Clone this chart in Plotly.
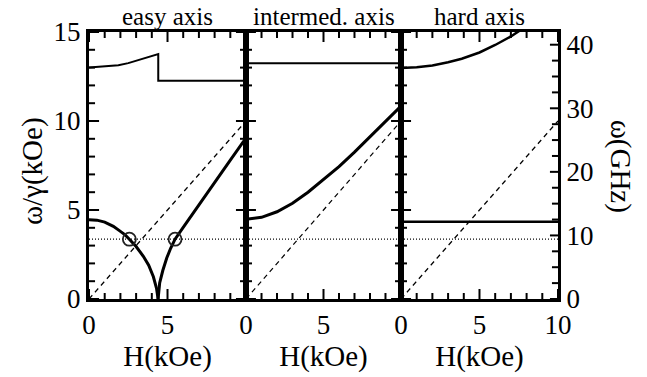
import plotly.graph_objects as go

# ---------------- data ----------------
GAMMA = 2.8  # GHz per kOe (right axis conversion)
Y_MAX = 15

panel_titles = ["easy axis", "intermed. axis", "hard axis"]

ref_H = [0, 10]          # dashed line omega/gamma = H
ref_w = [0, 10]
xband_H = [0, 10]        # dotted horizontal line
xband_w = [3.36, 3.36]

# easy axis
easy_low_H = [0, 0.5, 1.0, 1.55, 2.0, 2.3, 2.57, 3.0, 3.46, 3.8, 4.1, 4.3, 4.4]
easy_low_w = [4.45, 4.43, 4.32, 4.08, 3.8, 3.6, 3.36, 2.95, 2.4, 1.9, 1.25, 0.6, 0.0]
easy_hi_H = [4.4, 4.5, 4.7, 4.95, 5.2, 5.48, 6.0, 6.33, 7.0, 8.0, 9.0, 9.83, 10]
easy_hi_w = [0.0, 0.9, 1.6, 2.3, 2.85, 3.36, 4.02, 4.44, 5.3, 6.6, 7.8, 8.84, 9.0]
easy_top_H = [0, 1, 1.87, 2.5, 3.14, 3.8, 4.41, 4.41, 10]
easy_top_w = [13.0, 13.05, 13.13, 13.25, 13.41, 13.58, 13.76, 12.26, 12.26]
res_H = [2.57, 5.48]     # resonance circles
res_w = [3.36, 3.36]

# intermediate axis
int_top_H = [0, 10]
int_top_w = [13.24, 13.24]
int_low_H = [0, 1, 2, 3, 4, 5, 6, 7, 8, 9, 10]
int_low_w = [4.48, 4.59, 4.9, 5.38, 6.0, 6.7, 7.44, 8.25, 9.1, 9.95, 10.84]

# hard axis
hard_top_H = [0, 1, 2, 3, 3.87, 5, 6, 7, 7.6, 8]
hard_top_w = [12.98, 13.02, 13.12, 13.3, 13.5, 13.85, 14.27, 14.75, 15.1, 15.3]
hard_low_H = [0, 10]
hard_low_w = [4.34, 4.34]

# tick positions / labels
h_major = [0, 5, 10]
h_minor = [1, 2, 3, 4, 6, 7, 8, 9]
h_labels_inner = [0, 5]
h_labels_last = [0, 5, 10]
w_major = [0, 5, 10, 15]
w_minor = [1, 2, 3, 4, 6, 7, 8, 9, 11, 12, 13, 14]
ghz_major = [0, 10, 20, 30, 40]
ghz_minor = [2.5, 5, 7.5, 12.5, 15, 17.5, 22.5, 25, 27.5, 32.5, 35, 37.5]

# ---------------- figure ----------------
FONT = "Liberation Serif"
fig = go.Figure()

def solid(x, y, ax, w=2.5):
    fig.add_trace(go.Scatter(x=x, y=y, mode="lines", xaxis=ax[0], yaxis=ax[1],
                             line=dict(color="black", width=w), showlegend=False))

axes = [("x", "y"), ("x2", "y2"), ("x3", "y3")]
for ax in axes:
    fig.add_trace(go.Scatter(x=ref_H, y=ref_w, mode="lines", xaxis=ax[0], yaxis=ax[1],
                             line=dict(color="black", width=1.2, dash="5px,4px"),
                             showlegend=False))
    fig.add_trace(go.Scatter(x=xband_H, y=xband_w, mode="lines", xaxis=ax[0], yaxis=ax[1],
                             line=dict(color="black", width=1.2, dash="1px,2px"),
                             showlegend=False))

solid(easy_low_H, easy_low_w, axes[0], 3)
solid(easy_hi_H, easy_hi_w, axes[0], 3)
solid(easy_top_H, easy_top_w, axes[0], 2)
fig.add_trace(go.Scatter(x=res_H, y=res_w, mode="markers", xaxis="x", yaxis="y",
                         marker=dict(symbol="circle-open", size=13, color="#222",
                                     line=dict(width=1.8)), showlegend=False))
solid(int_top_H, int_top_w, axes[1], 2)
solid(int_low_H, int_low_w, axes[1], 3)
solid(hard_top_H, hard_top_w, axes[2], 2.5)
solid(hard_low_H, hard_low_w, axes[2], 2.5)

doms = [[0, 0.3348], [0.3348, 0.6652], [0.6652, 1.0]]
tickfont = dict(family=FONT, size=27, color="black")
titlefont = dict(family=FONT, size=29, color="black")

layout = dict(
    width=647, height=377,
    margin=dict(l=89, r=89, t=32, b=78),
    paper_bgcolor="white", plot_bgcolor="white",
    font=dict(family=FONT, color="black"),
    showlegend=False,
)
for i, dom in enumerate(doms):
    k = "" if i == 0 else str(i + 1)
    labs = h_labels_last if i == 2 else h_labels_inner
    layout["xaxis" + k] = dict(
        domain=dom, range=[0, 10], anchor="y" + k,
        tickmode="array", tickvals=labs, ticktext=[str(v) for v in labs],
        ticks="", showline=True, linewidth=3, linecolor="black", mirror=True,
        tickfont=tickfont, showgrid=False, zeroline=False,
        title=dict(text="H(kOe)", font=titlefont, standoff=0),
    )
    if i < 2:
        layout["yaxis" + k] = dict(
            domain=[0, 1], range=[0, Y_MAX], anchor="x" + k,
            tickmode="array", tickvals=w_major, ticktext=[str(v) for v in w_major],
            showticklabels=(i == 0), ticks="",
            showline=True, linewidth=3, linecolor="black", mirror=True,
            tickfont=tickfont, showgrid=False, zeroline=False,
        )

# panel 3: kOe data axis, labelled on the right in GHz
layout["yaxis3"] = dict(
    domain=[0, 1], range=[0, Y_MAX], anchor="x3", side="right",
    tickmode="array", tickvals=[g / GAMMA for g in ghz_major],
    ticktext=[str(g) for g in ghz_major], ticks="",
    showline=True, linewidth=3, linecolor="black", mirror=True,
    tickfont=tickfont, showgrid=False, zeroline=False,
)

# tick marks (inward), placed through each subplot's own axes
shapes = []
MAJ_Y, MIN_Y = 10 / 267, 6 / 267     # fraction of panel height
MAJ_X, MIN_X = 10 / 156, 6 / 156     # fraction of panel width
tick_line = dict(color="black", width=2)
for i in range(3):
    k = "" if i == 0 else str(i + 1)
    for vals, L in ((h_major, MAJ_Y), (h_minor, MIN_Y)):
        for v in vals:
            for base, sgn in ((0, 1), (1, -1)):
                shapes.append(dict(type="line", xref="x" + k, yref="y" + k + " domain",
                                   x0=v, x1=v, y0=base, y1=base + sgn * L, line=tick_line))
    left_sets = [(w_major, MAJ_X), (w_minor, MIN_X)]
    for vals, L in left_sets:
        for v in vals:
            shapes.append(dict(type="line", xref="x" + k + " domain", yref="y" + k,
                               x0=0, x1=L, y0=v, y1=v, line=tick_line))
            if i < 2:
                shapes.append(dict(type="line", xref="x" + k + " domain", yref="y" + k,
                                   x0=1, x1=1 - L, y0=v, y1=v, line=tick_line))
    if i == 2:
        for vals, L in ((ghz_major, MAJ_X * 0.8), (ghz_minor, MIN_X)):
            for g in vals:
                shapes.append(dict(type="line", xref="x3 domain", yref="y3",
                                   x0=1, x1=1 - L, y0=g / GAMMA, y1=g / GAMMA,
                                   line=tick_line))
layout["shapes"] = shapes

annotations = []
centers = [(d[0] + d[1]) / 2 for d in doms]
for c, t in zip(centers, panel_titles):
    annotations.append(dict(text=t, x=c, y=1, xref="paper", yref="paper",
                            xanchor="center", yanchor="middle", yshift=16,
                            showarrow=False, font=dict(family=FONT, size=25, color="black")))
annotations.append(dict(text="ω/γ(kOe)", x=-0.119, y=0.48, xref="paper", yref="paper",
                        xanchor="center", yanchor="middle", textangle=-90,
                        showarrow=False, font=titlefont))
annotations.append(dict(text="ω(GHz)", x=1.135, y=0.498, xref="paper", yref="paper",
                        xanchor="center", yanchor="middle", textangle=90,
                        showarrow=False, font=titlefont))
layout["annotations"] = annotations

fig.update_layout(**layout)
fig.write_html("out.html")
